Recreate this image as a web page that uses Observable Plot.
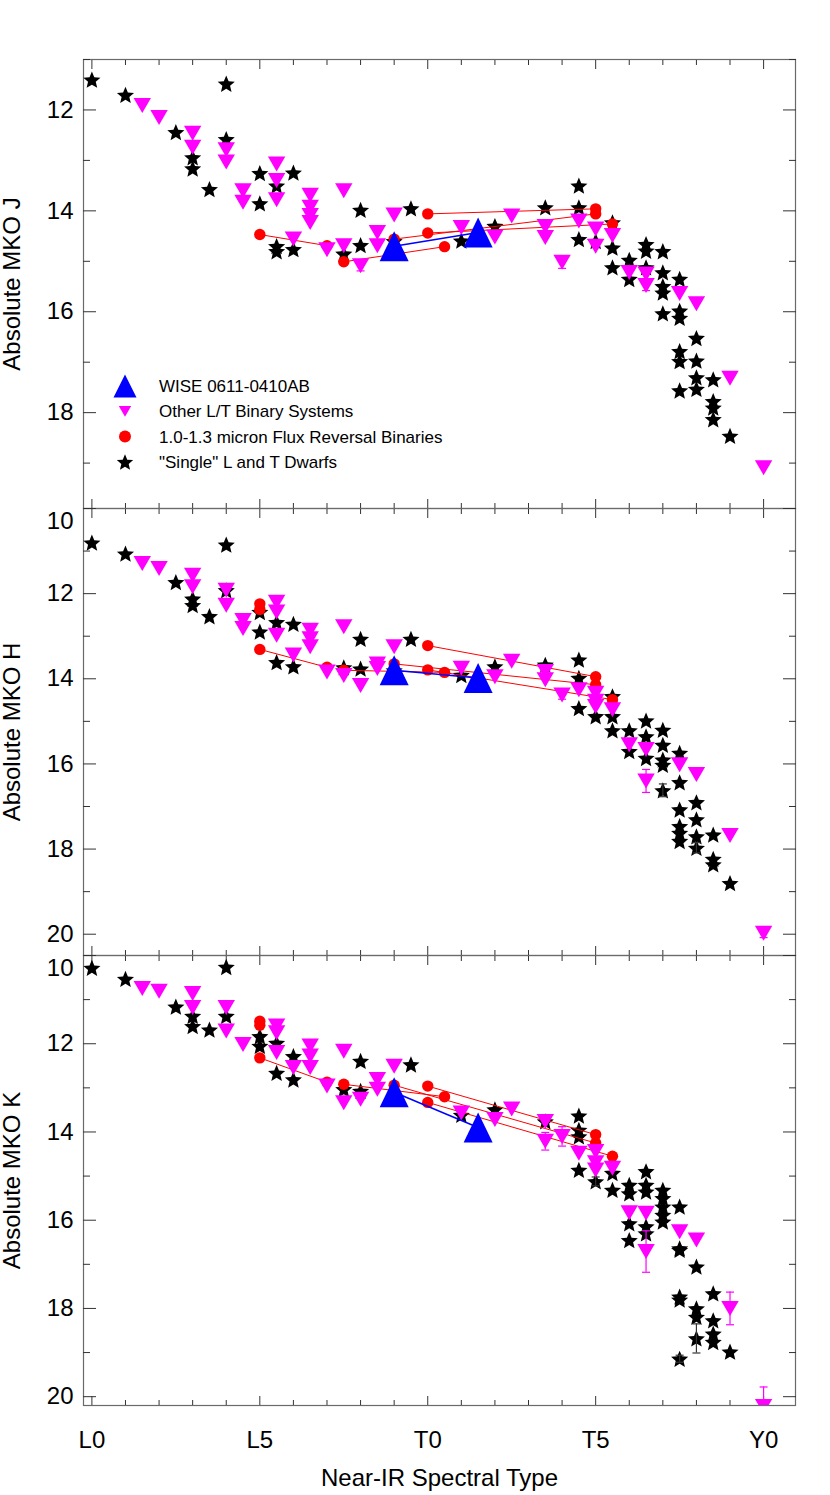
<!DOCTYPE html>
<html><head><meta charset="utf-8">
<script src="https://cdn.jsdelivr.net/npm/d3@7"></script>
<script src="https://cdn.jsdelivr.net/npm/@observablehq/plot@0.6"></script>
<style>
html,body{margin:0;padding:0;background:#fff;}
#wrap{position:relative;width:830px;height:1495px;background:#fff;font-family:"Liberation Sans",Arial,Helvetica,sans-serif;}
.panel{position:absolute;left:0;}
.panel svg{overflow:visible;}
#legend{position:absolute;left:0;top:0;overflow:visible;}
</style></head>
<body><div id="wrap"></div>
<script>
// ---------------- DATA ----------------
// spectral type code: L0 = 0, L5 = 5, T0 = 10, T5 = 15, Y0 = 20
const X_MAJOR = [0, 5, 10, 15, 20];
const X_TICK_LABELS = ["L0", "L5", "T0", "T5", "Y0"];
const X_TITLE = "Near-IR Spectral Type";
const Y_TITLES = ["Absolute MKO J", "Absolute MKO H", "Absolute MKO K"];
const LEGEND_LABELS = ["WISE 0611-0410AB", "Other L/T Binary Systems", "1.0-1.3 micron Flux Reversal Binaries", "\"Single\" L and T Dwarfs"];

// ---- J band ----
const J_single = [[0,11.40],[1,11.70],[4,11.48],[2.5,12.44],[3,12.94],[3,13.16],[4,12.58],[3.5,13.57],[5,13.25],[5,13.85],[5.5,13.5],[6,13.24],[5.5,14.70],[5.5,14.80],[6,14.76],[7.5,14.85],[8,13.98],[8,14.68],[9,14.6],[9.5,13.95],[11,14.59],[12,14.3],[13.5,13.93],[14.5,13.5],[14.5,13.93],[14.5,14.56],[15,14.6],[15.5,14.23],[15.5,14.73],[15.5,15.12],[16,14.97],[16,15.35],[16.5,14.66],[16.5,14.79],[16.5,15.12],[17,14.8],[17,15.22],[17,15.49],[17,15.62],[17,16.03],[17.5,15.35],[17.5,15.98],[17.5,16.12],[17.5,16.78],[17.5,16.98],[17.5,17.56],[18,16.52],[18,16.97],[18,17.3],[18,17.53],[18.5,17.34],[18.5,17.77],[18.5,17.9],[18.5,18.13],[19,18.46]];
const J_other = [[1.5,11.91],[2,12.15],[3,12.46],[3,12.74],[4,12.79],[4,13.03],[4.5,13.6],[4.5,13.83],[5.5,13.07],[5.5,13.40],[5.5,13.78],[6.5,13.69],[6.5,13.93],[6.5,14.09],[6.5,14.23],[7.5,13.6],[6,14.56],[7,14.77],[7.5,14.69],[8,15.09],[8.5,14.43],[8.5,14.69],[9,14.08],[11,14.33],[12,14.52],[12.5,14.1],[13.5,14.31],[13.5,14.53],[14,15.02],[14.5,14.2],[15,14.36],[15,14.7],[15.5,14.49],[16,15.22],[16.5,15.25],[16.5,15.48],[17.5,15.64],[18,15.84],[19,17.32],[20,19.09]];
const J_rev = [[5,14.47],[7,14.69],[7.5,15.01],[9,14.56],[10,14.06],[10,14.44],[10.5,14.71],[15,13.96],[15,14.06],[15.5,14.26]];
const J_pairs = [[0,1],[2,6],[3,8],[4,7],[5,9]];
const J_wise = [[9,14.7],[11.5,14.43]];
const J_err = [[14,15.02,0.12,"o"],[8,15.09,0.1,"o"],[16.5,15.48,0.1,"o"]];

// ---- H band ----
const H_single = [[0,10.8],[1,11.06],[4,10.85],[2.5,11.73],[3,12.12],[3,12.27],[3.5,12.53],[4,11.92],[5,12.43],[5,12.89],[5.5,12.67],[6,12.71],[5.5,13.61],[6,13.71],[8,13.06],[7.5,13.73],[8,13.76],[9,13.8],[9.5,13.06],[11,13.91],[12,13.71],[13.5,13.67],[14.5,13.55],[14.5,13.98],[14.5,14.69],[15,14.88],[15.5,14.41],[15.5,14.88],[15.5,15.21],[16,15.21],[16,15.7],[16.5,14.98],[16.5,15.35],[16.5,15.86],[17,15.2],[17,15.55],[17,15.9],[17,16.02],[17,16.62],[17.5,15.74],[17.5,16.43],[17.5,17.07],[17.5,17.46],[17.5,17.62],[17.5,17.81],[18,16.9],[18,17.3],[18,17.7],[18,17.97],[18.5,17.66],[18.5,18.23],[18.5,18.36],[19,18.8]];
const H_other = [[1.5,11.29],[2,11.41],[3,11.57],[3,11.84],[4,11.92],[4,12.27],[4.5,12.63],[4.5,12.82],[5.5,12.2],[5.5,12.43],[5.5,12.98],[6.5,12.86],[6.5,13.06],[6.5,13.25],[7.5,12.78],[6,13.44],[7,13.84],[7.5,13.92],[8,14.16],[8.5,13.65],[8.5,13.76],[9,13.25],[11,13.75],[12,13.95],[12.5,13.59],[13.5,13.83],[13.5,14.02],[14,14.38],[14.5,14.26],[15,14.34],[15,14.53],[15,14.65],[15.5,14.73],[16,15.55],[16.5,15.66],[16.5,16.4],[17.5,16.02],[18,16.25],[19,17.68],[20,19.98]];
const H_rev = [[5,12.24],[5,12.37],[5,13.31],[7,13.73],[7.5,13.8],[9,13.65],[10,13.22],[10,13.79],[10.5,13.85],[15,13.95],[15,14.14],[15.5,14.49]];
const H_pairs = [[2,3],[4,8],[5,10],[6,9],[7,11]];
const H_wise = [[9,13.8],[11.5,13.98]];
const H_err = [[16.5,16.4,0.27,"o"],[17,16.62,0.15,"s"],[18,17.97,0.12,"s"],[14,14.38,0.1,"o"],[20,19.98,0.1,"o"]];

// ---- K band ----
const K_single = [[0,10.28],[1,10.53],[4,10.26],[2.5,11.16],[3,11.37],[3,11.6],[3.5,11.68],[4,11.37],[5,11.83],[5,12.05],[5.5,11.98],[5.5,12.66],[6,12.28],[6,12.81],[7.5,13.03],[8,12.39],[8,13.07],[9.5,12.47],[11,13.61],[12,13.49],[13.5,13.76],[14.5,13.63],[14.5,13.95],[14.5,14.1],[14.5,14.86],[15,15.12],[15.5,14.93],[15.5,15.31],[16,15.2],[16,15.39],[16,16.07],[16,16.45],[16.5,14.89],[16.5,15.2],[16.5,15.35],[16.5,16.14],[16.5,16.3],[17,15.31],[17,15.5],[17,15.69],[17,15.88],[17,16.03],[17.5,15.69],[17.5,16.64],[17.5,16.67],[17.5,17.73],[17.5,17.8],[17.5,19.14],[18,17.05],[18,18.0],[18,18.19],[18,18.68],[18.5,17.66],[18.5,18.27],[18.5,18.57],[18.5,18.76],[19,18.98]];
const K_other = [[1.5,10.75],[2,10.81],[3,10.86],[3,11.18],[4,11.18],[4,11.71],[4.5,12.02],[5.5,11.6],[5.5,11.75],[5.5,12.2],[6,12.54],[6.5,12.05],[6.5,12.28],[6.5,12.54],[7.5,12.17],[7,12.96],[7.5,13.34],[8,13.26],[8.5,12.81],[8.5,13.03],[9,12.51],[11,13.57],[12,13.72],[12.5,13.48],[13.5,13.76],[13.5,14.21],[14,14.1],[14.5,14.48],[15,14.44],[15,14.7],[15,14.86],[15.5,14.82],[16,15.83],[16.5,15.84],[16.5,16.71],[17.5,16.26],[18,16.45],[19,18.0],[20,20.22]];
const K_rev = [[5,11.49],[5,11.58],[5,12.32],[7,12.87],[7.5,12.92],[9,12.94],[10,12.96],[10,13.33],[10.5,13.2],[15,14.06],[15,14.25],[15.5,14.55]];
const K_pairs = [[2,3],[4,8],[5,10],[6,9],[7,11]];
const K_wise = [[9,13.1],[11.5,13.9]];
const K_err = [[16.5,16.71,0.47,"o"],[19,18.0,0.37,"o"],[20,20.22,0.44,"o"],[18,18.68,0.33,"s"],[17.5,19.14,0.08,"s"],[15,15.12,0.1,"s"],[13.5,14.21,0.2,"o"],[14,14.1,0.22,"o"]];

// ---------------- STYLE ----------------
const MAGENTA = "#ff00ff", RED = "#ff0000", BLUE = "#0000ff";
const FONT = "'Liberation Sans', Arial, Helvetica, sans-serif";
const X_DOMAIN = [-0.25, 20.95];

function starPath(ctx, R) {
  const ri = R * 0.45;
  for (let k = 0; k < 10; k++) {
    const rr = k % 2 ? ri : R;
    const a = -Math.PI / 2 + k * Math.PI / 5;
    const x = rr * Math.cos(a), y = rr * Math.sin(a) + R * 0.1;
    if (k) ctx.lineTo(x, y); else ctx.moveTo(x, y);
  }
  ctx.closePath();
}
const starSym = R => ({draw(ctx) { starPath(ctx, R); }});
const triDownPath = (ctx, hw, hh) => { ctx.moveTo(-hw, -hh); ctx.lineTo(hw, -hh); ctx.lineTo(0, hh); ctx.closePath(); };
const triUpPath = (ctx, hw, hh) => { ctx.moveTo(-hw, hh); ctx.lineTo(hw, hh); ctx.lineTo(0, -hh); ctx.closePath(); };
const triDown = (hw, hh) => ({draw(ctx) { triDownPath(ctx, hw, hh); }});
const triUp = (hw, hh) => ({draw(ctx) { triUpPath(ctx, hw, hh); }});
const capSym = hw => ({draw(ctx) { ctx.moveTo(-hw, 0); ctx.lineTo(hw, 0); }});

const wrap = document.getElementById("wrap");

function panel(cfg) {
  const {single, other, rev, pairs, wise, errs, yDomain, title, top, height, marginTop, marginBottom, bottomLabels} = cfg;
  const ys = d3.range(Math.ceil(yDomain[0]), Math.floor(yDomain[1]) + 1);
  const yMajor = ys.filter(v => v % 2 === 0);
  const yMinor = ys.filter(v => v % 2 !== 0);
  const xAll = d3.range(0, 21);
  const xMinor = xAll.filter(v => v % 5 !== 0);
  const noText = () => "";
  const pt = {x: d => d[0], y: d => d[1]};
  const linkData = pairs.map(([a, b]) => [rev[a], rev[b]]);
  const errO = errs.filter(d => d[3] === "o"), errS = errs.filter(d => d[3] === "s");
  const errMarks = (data, color) => [
    Plot.ruleX(data, {x: d => d[0], y1: d => d[1] - d[2], y2: d => d[1] + d[2], stroke: color, strokeWidth: 1.2, clip: true}),
    Plot.dot(data, {x: d => d[0], y: d => d[1] - d[2], symbol: capSym(4), r: 1, stroke: color, fill: "none", strokeWidth: 1.2, clip: true}),
    Plot.dot(data, {x: d => d[0], y: d => d[1] + d[2], symbol: capSym(4), r: 1, stroke: color, fill: "none", strokeWidth: 1.2, clip: true})
  ];
  const labelTop = yMajor.filter(v => v !== 10);
  const marks = [
    Plot.frame({stroke: "#6a6a6a", strokeWidth: 1.2}),
    Plot.axisX(xMinor, {anchor: "bottom", tickSize: -5, tickFormat: noText, stroke: "#333", label: null}),
    Plot.axisX(X_MAJOR, {anchor: "bottom", tickSize: -9, tickFormat: noText, stroke: "#333", label: null}),
    Plot.axisX(xMinor, {anchor: "top", tickSize: -5, tickFormat: noText, stroke: "#333", label: null}),
    Plot.axisX(X_MAJOR, {anchor: "top", tickSize: -9, tickFormat: noText, stroke: "#333", label: null}),
    Plot.axisY(yMinor, {anchor: "left", tickSize: -7, tickFormat: noText, stroke: "#333", label: null}),
    Plot.axisY(yMajor, {anchor: "left", tickSize: -13, tickFormat: noText, stroke: "#333", label: null}),
    Plot.axisY(yMinor, {anchor: "right", tickSize: -7, tickFormat: noText, stroke: "#333", label: null}),
    Plot.axisY(yMajor, {anchor: "right", tickSize: -13, tickFormat: noText, stroke: "#333", label: null}),
    Plot.axisY(labelTop, {anchor: "left", tickSize: 0, tickPadding: 10, fontSize: 24, fill: "black", label: null, tickFormat: d => String(d)}),
  ];
  if (yMajor.includes(10)) marks.push(Plot.axisY([10], {anchor: "left", tickSize: 0, tickPadding: 10, fontSize: 24, fill: "black", label: null, dy: 13, tickFormat: d => String(d)}));
  marks.push(Plot.text([title], {text: d => d, frameAnchor: "left", textAnchor: "middle", lineAnchor: "middle", rotate: -90, dx: -71, fontSize: 24, fill: "black"}));
  if (bottomLabels) {
    marks.push(Plot.axisX(X_MAJOR, {anchor: "bottom", tickSize: 0, tickPadding: 25, fontSize: 24, fill: "black", label: null, tickFormat: d => X_TICK_LABELS[X_MAJOR.indexOf(d)]}));
    marks.push(Plot.text([X_TITLE], {text: d => d, frameAnchor: "bottom", textAnchor: "middle", lineAnchor: "middle", dy: 73, fontSize: 24, fill: "black"}));
  }
  marks.push(
    Plot.dot(single, {...pt, symbol: starSym(9), r: 1, fill: "black", clip: true}),
    ...errMarks(errS, "#333"),
    Plot.link(linkData, {x1: d => d[0][0], y1: d => d[0][1], x2: d => d[1][0], y2: d => d[1][1], stroke: RED, strokeWidth: 1, clip: true}),
    Plot.dot(rev, {...pt, r: 5.7, fill: RED, clip: true}),
    ...errMarks(errO, MAGENTA),
    Plot.dot(other, {...pt, symbol: triDown(8.7, 7.5), r: 1, fill: MAGENTA, clip: true}),
    Plot.link([wise], {x1: d => d[0][0], y1: d => d[0][1], x2: d => d[1][0], y2: d => d[1][1], stroke: BLUE, strokeWidth: 1.5}),
    Plot.dot(wise, {...pt, symbol: triUp(14.5, 15), r: 1, fill: BLUE, clip: true})
  );
  const chart = Plot.plot({
    width: 830, height, marginLeft: 83, marginRight: 35, marginTop, marginBottom,
    x: {domain: X_DOMAIN, label: null},
    y: {domain: [yDomain[1], yDomain[0]], label: null},
    style: {background: "transparent", overflow: "visible", fontFamily: FONT, color: "black"},
    marks
  });
  const div = document.createElement("div");
  div.className = "panel";
  div.style.top = top + "px";
  div.appendChild(chart);
  wrap.appendChild(div);
}

panel({single: J_single, other: J_other, rev: J_rev, pairs: J_pairs, wise: J_wise, errs: J_err, yDomain: [11, 19.9], title: Y_TITLES[0], top: 0, height: 508, marginTop: 59, marginBottom: 0});
panel({single: H_single, other: H_other, rev: H_rev, pairs: H_pairs, wise: H_wise, errs: H_err, yDomain: [10, 20.5], title: Y_TITLES[1], top: 508, height: 447, marginTop: 0, marginBottom: 0});
panel({single: K_single, other: K_other, rev: K_rev, pairs: K_pairs, wise: K_wise, errs: K_err, yDomain: [10, 20.2], title: Y_TITLES[2], top: 955, height: 540, marginTop: 0, marginBottom: 90, bottomLabels: true});

// ---------------- LEGEND ----------------
const legendSyms = [
  {draw: p => triUpPath(p, 11.5, 11.5), fill: BLUE},
  {draw: p => triDownPath(p, 6.2, 5.4), fill: MAGENTA},
  {draw: p => { p.moveTo(6, 0); p.arc(0, 0, 6, 0, 2 * Math.PI); }, fill: RED},
  {draw: p => starPath(p, 8.6), fill: "black"}
];
const lg = d3.select(wrap).append("svg").attr("id", "legend").attr("width", 830).attr("height", 508);
const rowY = i => 386 + i * 25.3;
LEGEND_LABELS.forEach((lab, i) => {
  const p = d3.path();
  legendSyms[i].draw(p);
  lg.append("path").attr("d", p.toString()).attr("fill", legendSyms[i].fill).attr("transform", `translate(125,${rowY(i)})`);
  lg.append("text").attr("x", 159).attr("y", rowY(i)).attr("dy", "0.35em").attr("font-size", 17).attr("font-family", FONT).attr("fill", "black").text(lab);
});
</script></body></html>
